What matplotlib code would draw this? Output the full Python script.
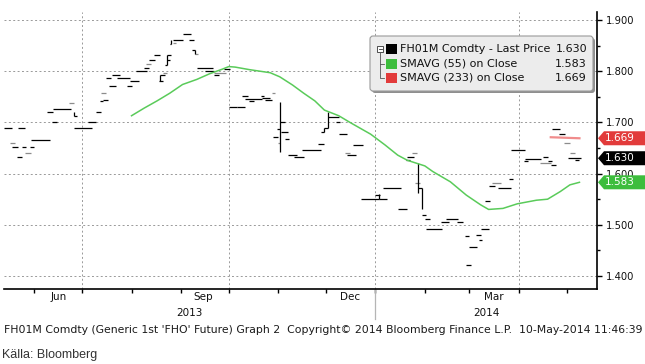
import numpy as np
import matplotlib
matplotlib.use("Agg")
import matplotlib.pyplot as plt
import matplotlib.dates as mdates
from matplotlib.patches import Polygon, FancyBboxPatch, Rectangle
from matplotlib.lines import Line2D
from matplotlib.transforms import IdentityTransform

# price bars (flat daily bars, drawn as horizontal runs)
bar_start = ["2013-05-13", "2013-05-22", "2013-05-18", "2013-05-24", "2013-05-29", "2013-05-21",
             "2013-05-30", "2013-06-09", "2013-06-13", "2013-06-26", "2013-06-12", "2013-06-26",
             "2013-07-05", "2013-07-10", "2013-07-12", "2013-07-14", "2013-07-16", "2013-07-18",
             "2013-07-20", "2013-07-23", "2013-07-29", "2013-07-31", "2013-08-04", "2013-08-09",
             "2013-08-12", "2013-08-15", "2013-08-18", "2013-08-19", "2013-08-23", "2013-08-23",
             "2013-08-22", "2013-08-25", "2013-08-27", "2013-09-02", "2013-09-06", "2013-09-08",
             "2013-09-11", "2013-09-16", "2013-09-22", "2013-09-28", "2013-10-01", "2013-10-06",
             "2013-10-09", "2013-10-11", "2013-10-14", "2013-10-21", "2013-10-22", "2013-10-24",
             "2013-11-02", "2013-10-31", "2013-11-03", "2013-10-29", "2013-11-05", "2013-11-07",
             "2013-11-11", "2013-11-16", "2013-11-26", "2013-11-28", "2013-11-30", "2013-12-02",
             "2013-12-07", "2013-12-09", "2013-12-18", "2013-12-14", "2013-12-23", "2014-01-01",
             "2014-01-03", "2014-01-06", "2014-01-15", "2014-01-20", "2014-01-21", "2014-01-28",
             "2014-01-30", "2014-02-01", "2014-02-02", "2014-02-11", "2014-02-14", "2014-02-21",
             "2014-02-26", "2014-03-01", "2014-02-27", "2014-03-05", "2014-03-07", "2014-03-08",
             "2014-03-11", "2014-03-13", "2014-03-19", "2014-03-26", "2014-03-27", "2014-04-04",
             "2014-04-05", "2014-04-16", "2014-04-19", "2014-04-21", "2014-04-22", "2014-04-26",
             "2014-05-02", "2014-05-06"]
bar_end = ["2013-05-18", "2013-05-26", "2013-05-22", "2013-05-27", "2013-06-01", "2013-05-24",
           "2013-06-11", "2013-06-13", "2013-06-24", "2013-06-28", "2013-06-15", "2013-07-07",
           "2013-07-10", "2013-07-13", "2013-07-14", "2013-07-17", "2013-07-19", "2013-07-22",
           "2013-07-25", "2013-07-31", "2013-08-01", "2013-08-06", "2013-08-11", "2013-08-12",
           "2013-08-16", "2013-08-19", "2013-08-21", "2013-08-22", "2013-08-26", "2013-08-25",
           "2013-08-23", "2013-08-26", "2013-09-02", "2013-09-07", "2013-09-09", "2013-09-10",
           "2013-09-21", "2013-09-22", "2013-09-25", "2013-10-02", "2013-10-06", "2013-10-11",
           "2013-10-13", "2013-10-22", "2013-10-17", "2013-10-23", "2013-10-27", "2013-10-28",
           "2013-11-05", "2013-11-02", "2013-11-07", "2013-11-01", "2013-11-08", "2013-11-13",
           "2013-11-17", "2013-11-28", "2013-11-30", "2013-11-30", "2013-12-02", "2013-12-09",
           "2013-12-10", "2013-12-14", "2013-12-24", "2013-12-20", "2014-01-03", "2014-01-04",
           "2014-01-08", "2014-01-17", "2014-01-21", "2014-01-23", "2014-01-25", "2014-01-30",
           "2014-02-02", "2014-02-04", "2014-02-12", "2014-02-16", "2014-02-22", "2014-02-25",
           "2014-03-01", "2014-03-06", "2014-03-02", "2014-03-08", "2014-03-09", "2014-03-13",
           "2014-03-14", "2014-03-17", "2014-03-27", "2014-03-28", "2014-04-05", "2014-04-07",
           "2014-04-15", "2014-04-19", "2014-04-22", "2014-04-24", "2014-04-27", "2014-04-30",
           "2014-05-10", "2014-05-09"]
bar_price = [1.690, 1.690, 1.651, 1.651, 1.651, 1.632,
             1.665, 1.720, 1.726, 1.712, 1.700, 1.690,
             1.700, 1.720, 1.741, 1.743, 1.786, 1.772,
             1.792, 1.786, 1.772, 1.780, 1.800, 1.806,
             1.821, 1.831, 1.781, 1.793, 1.831, 1.822,
             1.812, 1.853, 1.860, 1.872, 1.860, 1.841,
             1.806, 1.800, 1.792, 1.804, 1.730, 1.731,
             1.751, 1.745, 1.741, 1.751, 1.747, 1.743,
             1.700, 1.687, 1.681, 1.671, 1.667, 1.636,
             1.632, 1.646, 1.657, 1.681, 1.690, 1.710,
             1.700, 1.677, 1.655, 1.636, 1.550, 1.558,
             1.550, 1.571, 1.530, 1.626, 1.632, 1.571,
             1.520, 1.511, 1.491, 1.505, 1.511, 1.505,
             1.478, 1.456, 1.421, 1.481, 1.470, 1.491,
             1.546, 1.575, 1.571, 1.589, 1.646, 1.624,
             1.628, 1.632, 1.624, 1.616, 1.687, 1.677,
             1.630, 1.626]

# lighter (grey) runs
grey_start = ["2013-05-17", "2013-05-26", "2013-06-23", "2013-07-13", "2013-08-10", "2013-08-21",
              "2013-08-27", "2013-09-10", "2013-09-22", "2013-10-28", "2013-11-01", "2013-12-13",
              "2014-01-24", "2014-01-26", "2014-03-15", "2014-04-14", "2014-04-29", "2014-05-03"]
grey_end = ["2013-05-20", "2013-05-30", "2013-06-26", "2013-07-16", "2013-08-13", "2013-08-23",
            "2013-08-29", "2013-09-12", "2013-09-29", "2013-10-30", "2013-11-02", "2013-12-16",
            "2014-01-27", "2014-01-29", "2014-03-21", "2014-04-21", "2014-05-03", "2014-05-06"]
grey_price = [1.659, 1.640, 1.737, 1.757, 1.815, 1.796,
              1.855, 1.834, 1.796, 1.757, 1.659, 1.640,
              1.640, 1.581, 1.581, 1.620, 1.659, 1.640]

# high-low spikes
spike_date = ["2013-06-26", "2013-08-19", "2013-08-23", "2013-08-26", "2013-09-10", "2013-11-02",
              "2013-11-30", "2013-12-02", "2014-01-03", "2014-01-28", "2014-01-30"]
spike_low = [1.712, 1.780, 1.812, 1.853, 1.833, 1.642, 1.681, 1.690, 1.550, 1.562, 1.530]
spike_high = [1.720, 1.793, 1.831, 1.860, 1.841, 1.740, 1.690, 1.720, 1.560, 1.621, 1.571]

# SMAVG (55)
sma55_date = ["2013-08-01", "2013-08-09", "2013-08-17", "2013-08-25", "2013-09-02", "2013-09-11",
              "2013-09-19", "2013-09-27", "2013-10-01", "2013-10-05", "2013-10-14", "2013-10-27",
              "2013-11-02", "2013-11-10", "2013-11-17", "2013-11-24", "2013-11-30", "2013-12-09",
              "2013-12-16", "2013-12-29", "2014-01-07", "2014-01-15", "2014-01-21", "2014-01-27",
              "2014-02-01", "2014-02-06", "2014-02-17", "2014-02-27", "2014-03-08", "2014-03-13",
              "2014-03-22", "2014-03-31", "2014-04-12", "2014-04-19", "2014-04-27", "2014-05-03",
              "2014-05-09"]
sma55 = [1.713, 1.728, 1.742, 1.757, 1.774, 1.784,
         1.795, 1.804, 1.809, 1.808, 1.803, 1.797,
         1.789, 1.773, 1.757, 1.742, 1.724, 1.713,
         1.700, 1.677, 1.656, 1.636, 1.626, 1.620,
         1.615, 1.604, 1.584, 1.558, 1.539, 1.530,
         1.532, 1.541, 1.548, 1.550, 1.565, 1.578,
         1.583]

# SMAVG (233)
sma233_date = ["2014-04-21", "2014-05-09"]
sma233 = [1.671, 1.669]

last_price = 1.630
legend_names = ["FH01M Comdty - Last Price", "SMAVG (55) on Close", "SMAVG (233) on Close"]
legend_values = [last_price, sma55[-1], sma233[-1]]
y_ticks = [1.4, 1.5, 1.6, 1.7, 1.8, 1.9]
month_labels = ["Jun", "Sep", "Dec", "Mar"]
month_label_dates = ["2013-06-16", "2013-09-15", "2013-12-16", "2014-03-16"]
quarter_lines = ["2013-07-01", "2013-10-01", "2014-01-01", "2014-04-01"]
footer = ("FH01M Comdty (Generic 1st 'FHO' Future) Graph 2  Copyright\u00a9 2014 "
          "Bloomberg Finance L.P.  10-May-2014 11:46:39")


def dn(lst):
    return mdates.datestr2num(lst)


W, H = 645, 364
GREEN = "#3dbd3d"
RED = "#e23b3b"
font = "DejaVu Sans"

fig = plt.figure(figsize=(W / 100, H / 100), dpi=100)
ax = fig.add_axes([4 / W, 1 - 289 / H, 593 / W, 277 / H])

ax.set_xlim(dn(["2013-05-13"])[0], dn(["2014-05-20"])[0])
ax.set_ylim(1.3746, 1.9156)

# grid
for yv in y_ticks:
    ax.axhline(yv, color="#999999", lw=0.7, ls=(0, (2, 2.5)), zorder=1)
for xv in dn(quarter_lines):
    ax.axvline(xv, color="#999999", lw=0.7, ls=(0, (2, 2.5)), zorder=1)

ax.hlines(grey_price, dn(grey_start), dn(grey_end), color="#8c8c8c", lw=0.9, zorder=3)
ax.hlines(bar_price, dn(bar_start), dn(bar_end), color="black", lw=0.9, zorder=4)
ax.vlines(dn(spike_date), spike_low, spike_high, color="black", lw=0.9, zorder=4)
ax.plot(dn(sma55_date), sma55, color="#5acb5a", lw=1.1, zorder=5)
ax.plot(dn(sma233_date), sma233, color="#f08c8c", lw=1.6, zorder=5)

# axes styling
for s in ["top", "left"]:
    ax.spines[s].set_visible(False)
ax.spines["right"].set_linewidth(1.2)
ax.spines["bottom"].set_linewidth(1.2)
ax.yaxis.tick_right()
ax.set_yticks(y_ticks)
ax.set_yticklabels(["%.3f" % v for v in y_ticks], fontsize=7.2, family=font, color="#111111")
ax.set_yticks(np.arange(1.45, 1.9, 0.1), minor=True)
ax.tick_params(axis="y", which="major", length=3.6, width=1, pad=2.5)
ax.tick_params(axis="y", which="minor", length=2.2, width=1)

ax.xaxis.set_major_locator(mdates.MonthLocator())
ax.xaxis.set_major_formatter(plt.NullFormatter())
ax.set_xticks(dn(month_label_dates), minor=True)
ax.set_xticklabels(month_labels, minor=True, fontsize=7.5, family=font, color="#111111")
ax.tick_params(axis="x", which="major", length=2.9, width=1, direction="out")
ax.tick_params(axis="x", which="minor", length=0, pad=2)

# year labels and separator
jan1 = dn(["2014-01-01"])[0]
x0, x1 = ax.get_xlim()
ax.text((x0 + jan1) / 2, -0.087, "2013", transform=ax.get_xaxis_transform(),
        ha="center", va="center", fontsize=7.5, family=font, color="#111111")
ax.text((jan1 + x1) / 2, -0.087, "2014", transform=ax.get_xaxis_transform(),
        ha="center", va="center", fontsize=7.5, family=font, color="#111111")
ax.add_line(Line2D([jan1, jan1], [0, -0.11], transform=ax.get_xaxis_transform(),
                   color="#b5b5b5", lw=0.9, clip_on=False))

# value badges on the right axis
fig.canvas.draw()
px = IdentityTransform()
for val, col in [(sma233[-1], RED), (last_price, "black"), (sma55[-1], GREEN)]:
    yc = ax.transData.transform((x0, val))[1]
    poly = Polygon([(598, yc), (604, yc + 7), (650, yc + 7), (650, yc - 7), (604, yc - 7)],
                   closed=True, transform=px, facecolor=col, edgecolor="none", zorder=10)
    fig.add_artist(poly)
    fig.text(620, yc, "%.3f" % val, transform=px, ha="center", va="center",
             fontsize=7.5, family=font, color="white", zorder=11)

# legend box
fig.add_artist(FancyBboxPatch((372, H - 93), 223, 55, boxstyle="round,pad=0,rounding_size=3",
                              transform=px, facecolor="#8f8f8f", edgecolor="none", zorder=8))
fig.add_artist(FancyBboxPatch((370, H - 91), 223, 55, boxstyle="round,pad=0,rounding_size=3",
                              transform=px, facecolor="#ececec", edgecolor="#9a9a9a",
                              lw=0.8, zorder=9))
rows = [49, 64, 78]
for ry, name, val, col in zip(rows, legend_names, legend_values, ["black", GREEN, RED]):
    fig.add_artist(Rectangle((386, H - ry - 5), 11, 10, transform=px, facecolor=col,
                             edgecolor="none", zorder=10))
    fig.text(400, H - ry, name, transform=px, ha="left", va="center", fontsize=8,
             family=font, color="#111111", zorder=11)
    fig.text(587, H - ry, "%.3f" % val, transform=px, ha="right", va="center", fontsize=8,
             family=font, color="#111111", zorder=11)
# tree icon
fig.add_artist(Rectangle((377, H - 52), 6, 6, transform=px, facecolor="white",
                         edgecolor="#333333", lw=0.6, zorder=10))
fig.add_artist(Line2D([378.5, 381.5], [H - 49, H - 49], transform=px, color="#333333", lw=0.6, zorder=11))
fig.add_artist(Line2D([380, 380, 384], [H - 52, H - 78, H - 78], transform=px, color="#555555", lw=0.6, zorder=10))
fig.add_artist(Line2D([380, 384], [H - 64, H - 64], transform=px, color="#555555", lw=0.6, zorder=10))

# footer
fig.text(4, H - 330, footer, transform=px, ha="left", va="center", fontsize=7.8,
         family=font, color="#1a1a1a")
fig.text(2, H - 355, "Källa: Bloomberg", transform=px, ha="left", va="center", fontsize=9,
         family="Liberation Sans", color="#333333")

fig.savefig("out.png", dpi=100, facecolor="white")
